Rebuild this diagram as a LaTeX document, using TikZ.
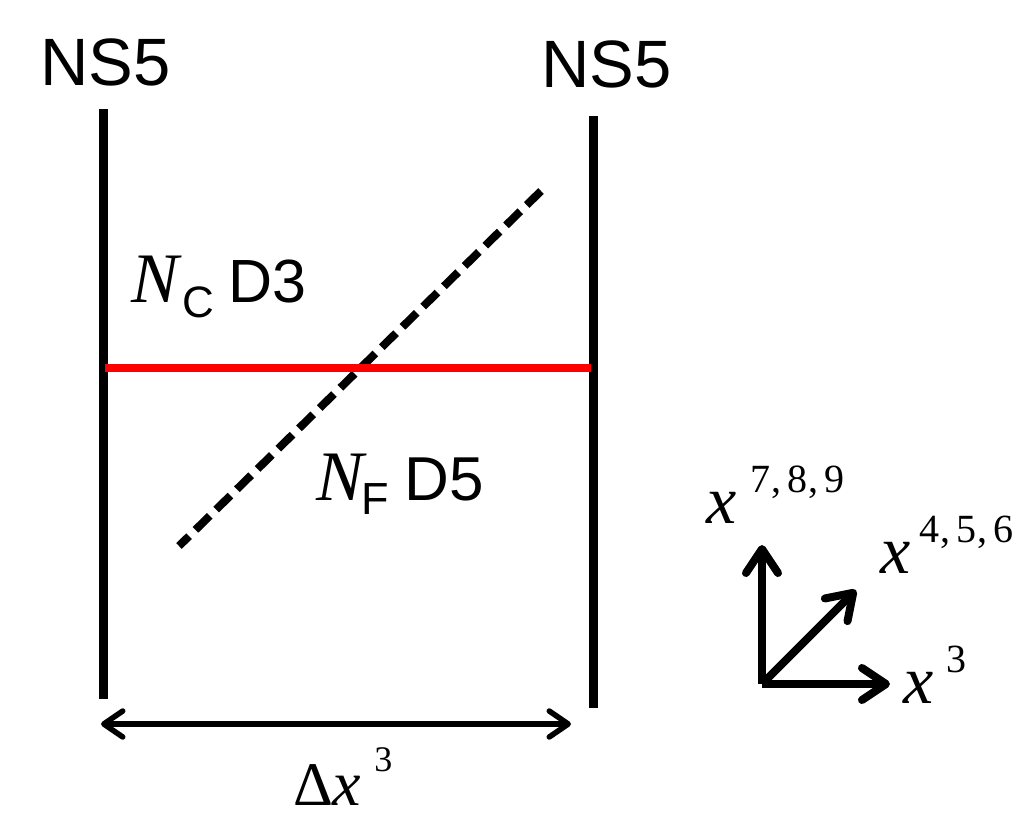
\documentclass[tikz,border=0pt]{standalone}
\usepackage{fontspec}
\setmainfont{Liberation Sans}
\newfontfamily\sr{Liberation Serif}
\usetikzlibrary{arrows.meta}
\newcommand{\fs}[1]{\fontsize{#1pt}{#1pt}\selectfont}
\begin{document}
\begin{tikzpicture}[x=1pt,y=-1pt,
  brane/.style={line width=9pt},
  lbl/.style={inner sep=0pt,outer sep=0pt,anchor=base west},
  axis/.style={line width=8pt,-{Straight Barb[round,length=24pt,width=32pt]}},
  dbl/.style={line width=5.5pt,{Straight Barb[round,length=19pt,width=26pt]}-{Straight Barb[round,length=19pt,width=26pt]}}]
\useasboundingbox (0,0) rectangle (1029,822);
% NS5 branes
\coordinate (L1) at (103,109); \coordinate (L2) at (103,699);
\coordinate (R1) at (593,116); \coordinate (R2) at (593,708);
\draw[brane] (L1) -- (L2);
\draw[brane] (R1) -- (R2);
\node[lbl] (ns1) at (40,85) {\fs{67}NS5};
\node[lbl] (ns2) at (541,87) {\fs{67}NS5};
% D5 dashed
\coordinate (d5a) at (541,191); \coordinate (d5b) at (179,546);
\draw[line width=8pt,dash pattern=on 20pt off 9pt] (d5a) -- (d5b);
% D3 red
\coordinate (d3a) at (105,368); \coordinate (d3b) at (591,368);
\draw[line width=8pt,draw={rgb,255:red,255;green,0;blue,0}] (d3a) -- (d3b);
% labels
\node[lbl] (nc) at (131,302) {{\sr\itshape\fs{71}N}\kern4pt\raisebox{-15pt}{\fs{44}C}\kern14pt{\fs{61}D3}};
\node[lbl] (nf) at (316,500) {{\sr\itshape\fs{71}N}\kern-2pt\raisebox{-14pt}{\fs{45}F}\kern16pt{\fs{62}D5}};
% Delta x^3
\coordinate (dxa) at (101,724); \coordinate (dxb) at (571,724);
\draw[dbl] (dxa) -- (dxb);
\node[lbl] (dx) at (293,805) {\sr{\fs{62}Δ}{\itshape\fs{64}x}\kern13pt\raisebox{34pt}{\fs{36}3}};
% axes
\coordinate (O) at (762,684);
\coordinate (ay) at (762,545); \coordinate (ax) at (890,684); \coordinate (ad) at (856,590);
\draw[axis] (O) -- (ay);
\draw[axis] (O) -- (ax);
\draw[axis] (O) -- (ad);
\node[lbl] (l789) at (706,523) {\sr{\itshape\fs{68}x}\kern14pt\raisebox{31pt}{\fs{40}7\kern1pt,\kern6pt 8\kern1pt,\kern6pt 9}};
\node[lbl] (l456) at (880,573) {\sr{\itshape\fs{68}x}\kern9pt\raisebox{31pt}{\fs{40}4\kern1pt,\kern6pt 5\kern1pt,\kern6pt 6}};
\node[lbl] (l3) at (903,703) {\sr{\itshape\fs{68}x}\kern13pt\raisebox{31pt}{\fs{40}3}};
\end{tikzpicture}
\end{document}
